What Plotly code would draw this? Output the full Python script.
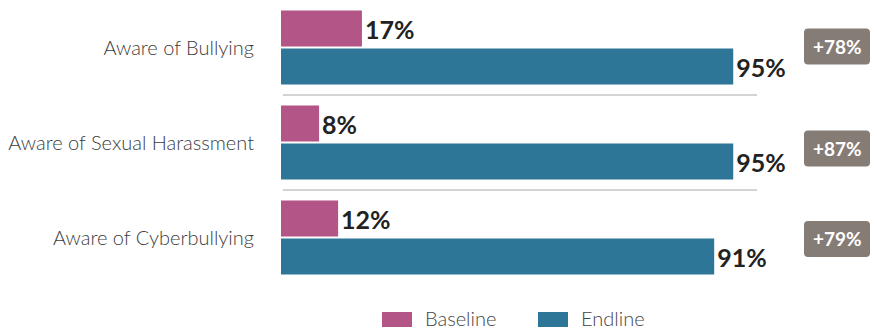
import plotly.graph_objects as go

# Survey awareness results, baseline vs endline (percent of respondents)
categories = ["Aware of Bullying", "Aware of Sexual Harassment", "Aware of Cyberbullying"]
baseline = [17, 8, 12]
endline = [95, 95, 91]
series_names = ["Baseline", "Endline"]

BASE_COLOR = "#b35587"
END_COLOR = "#2e7698"
BADGE_COLOR = "#857c76"
LABEL_FONT = "Lato, 'Source Sans Pro', 'Open Sans', sans-serif"

W, H = 877, 329
M_L, M_R, M_T, M_B = 281, 0, 0, 44
PW, PH = W - M_L - M_R, H - M_T - M_B
X_MAX = 125.2

fig = go.Figure()
for name, vals, color in [(series_names[0], baseline, BASE_COLOR),
                          (series_names[1], endline, END_COLOR)]:
    fig.add_trace(go.Bar(
        name=name,
        y=categories,
        x=vals,
        orientation="h",
        marker=dict(color=color, line=dict(width=0)),
        text=[f"{v}%" for v in vals],
        textposition="outside",
        constraintext="none",
        cliponaxis=False,
        textfont=dict(family=LABEL_FONT, size=25, color="#222222", weight=700),
        showlegend=False,
        hoverinfo="skip",
    ))


def px_to_paper(px_x, px_y):
    return (px_x - M_L) / PW, (M_T + PH - px_y) / PH


def rounded_rect(cx, cy, w, h, r):
    x0, y1 = px_to_paper(cx - w / 2, cy - h / 2)
    x1, y0 = px_to_paper(cx + w / 2, cy + h / 2)
    rx, ry = r / PW, r / PH
    return (f"M {x0 + rx},{y0} L {x1 - rx},{y0} Q {x1},{y0} {x1},{y0 + ry} "
            f"L {x1},{y1 - ry} Q {x1},{y1} {x1 - rx},{y1} L {x0 + rx},{y1} "
            f"Q {x0},{y1} {x0},{y1 - ry} L {x0},{y0 + ry} Q {x0},{y0} {x0 + rx},{y0} Z")


shapes = []
annotations = []

# thin separators between category groups
for i in range(len(categories) - 1):
    shapes.append(dict(type="line", xref="x", yref="y", x0=0.4, x1=100,
                       y0=i + 0.5, y1=i + 0.5,
                       line=dict(color="#d4d4d4", width=2)))

# change badges (endline minus baseline)
row_h = PH / len(categories)
badge_shift = [-1, 6, 1.5]
for i, (b, e) in enumerate(zip(baseline, endline)):
    cy = M_T + (i + 0.5) * row_h + badge_shift[i]
    cx = 837
    shapes.append(dict(type="path", xref="paper", yref="paper",
                       path=rounded_rect(cx, cy, 66, 36, 4),
                       fillcolor=BADGE_COLOR, line=dict(width=0), layer="above"))
    ax, ay = px_to_paper(cx, cy)
    annotations.append(dict(xref="paper", yref="paper", x=ax, y=ay,
                            text=f"+{e - b}%", showarrow=False,
                            xanchor="center", yanchor="middle",
                            font=dict(family=LABEL_FONT, size=19, color="white", weight=700)))

# legend swatches and labels
legend_items = [(series_names[0], BASE_COLOR, 382), (series_names[1], END_COLOR, 538)]
for name, color, lx in legend_items:
    x0, y1 = px_to_paper(lx, 312)
    x1, y0 = px_to_paper(lx + 30, 327)
    shapes.append(dict(type="rect", xref="paper", yref="paper",
                       x0=x0, x1=x1, y0=y0, y1=y1,
                       fillcolor=color, line=dict(width=0)))
    tx, ty = px_to_paper(lx + 41, 318)
    annotations.append(dict(xref="paper", yref="paper", x=tx, y=ty, text=name,
                            showarrow=False, xanchor="left", yanchor="middle",
                            font=dict(family=LABEL_FONT, size=20, color="#444444", weight=300)))

fig.update_layout(
    width=W, height=H,
    margin=dict(l=M_L, r=M_R, t=M_T, b=M_B, pad=0),
    paper_bgcolor="white", plot_bgcolor="white",
    barmode="group", bargap=0.2, bargroupgap=0.05,
    showlegend=False,
    shapes=shapes,
    annotations=annotations,
    xaxis=dict(range=[0, X_MAX], visible=False, fixedrange=True),
    yaxis=dict(autorange="reversed", showgrid=False, zeroline=False, showline=False,
               ticks="", ticklabelstandoff=26,
               tickfont=dict(family=LABEL_FONT, size=20, color="#3c3c3c", weight=300)),
)

fig.write_html("out.html")
